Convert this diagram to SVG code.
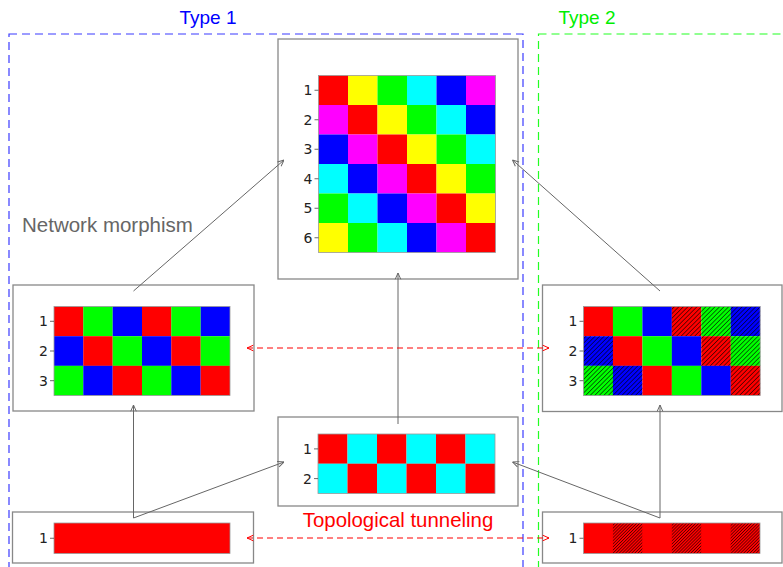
<svg xmlns="http://www.w3.org/2000/svg" width="783" height="567" viewBox="0 0 783 567">
<style>
.box{fill:#fff;stroke:#888;stroke-width:1.3}
.ax{fill:none;stroke:#999;stroke-width:0.8}
.lbl{font-family:"DejaVu Sans",sans-serif;font-size:14px;fill:#222;text-anchor:end;dominant-baseline:central}
.tk{stroke:#444;stroke-width:0.8}
.conn{stroke:#666;stroke-width:1;fill:none;marker-end:url(#ga)}
.rd{stroke:#f00;stroke-width:1;fill:none;stroke-dasharray:6,4;marker-end:url(#ra);marker-start:url(#ra)}
.R{fill:#f00}.G{fill:#0f0}.B{fill:#00f}.Y{fill:#ff0}.C{fill:#0ff}.M{fill:#f0f}
.h{fill:url(#hatch)}
.hd{fill:url(#hatch2)}
</style>
<defs>
<marker id="ga" viewBox="0 0 10 10" refX="10" refY="5" markerWidth="7" markerHeight="8" markerUnits="userSpaceOnUse" orient="auto-start-reverse"><path d="M1,1 L10,5 L1,9" fill="none" stroke="#666" stroke-width="1.4"/></marker>
<marker id="ra" viewBox="0 0 10 10" refX="10" refY="5" markerWidth="7" markerHeight="8" markerUnits="userSpaceOnUse" orient="auto-start-reverse"><path d="M1,1 L10,5 L1,9" fill="none" stroke="#f00" stroke-width="1.4"/></marker>
<pattern id="hatch" patternUnits="userSpaceOnUse" width="3.2" height="3.2" patternTransform="rotate(45)"><line x1="0" y1="0" x2="0" y2="3.2" stroke="#000" stroke-width="1.1"/></pattern>
<pattern id="hatch2" patternUnits="userSpaceOnUse" width="2.2" height="2.2" patternTransform="rotate(45)"><line x1="0" y1="0" x2="0" y2="2.2" stroke="#000" stroke-width="1"/></pattern>
</defs>
<rect width="783" height="567" fill="#fff"/>
<g id="type1-region">
<rect x="9" y="34" width="514" height="560" fill="none" stroke="#3b3bff" stroke-width="1.2" stroke-dasharray="8,5"/>
<text x="208" y="24" font-family="Liberation Sans,sans-serif" font-size="19" fill="#00f" text-anchor="middle">Type 1</text>
</g>
<g id="type2-region">
<rect x="538.5" y="34" width="260" height="560" fill="none" stroke="#2f2" stroke-width="1.2" stroke-dasharray="8,5"/>
<text x="587" y="24" font-family="Liberation Sans,sans-serif" font-size="19" fill="#0e0" text-anchor="middle">Type 2</text>
</g>
<g id="node-top">
<rect class="box" x="278" y="39" width="240" height="240"/>
<g transform="translate(318.5,75.5)">
<rect class="R" x="0" y="0" width="29.5" height="29.5"/><rect class="Y" x="29.5" y="0" width="29.5" height="29.5"/><rect class="G" x="59" y="0" width="29.5" height="29.5"/><rect class="C" x="88.5" y="0" width="29.5" height="29.5"/><rect class="B" x="118" y="0" width="29.5" height="29.5"/><rect class="M" x="147.5" y="0" width="29.5" height="29.5"/>
<rect class="M" x="0" y="29.5" width="29.5" height="29.5"/><rect class="R" x="29.5" y="29.5" width="29.5" height="29.5"/><rect class="Y" x="59" y="29.5" width="29.5" height="29.5"/><rect class="G" x="88.5" y="29.5" width="29.5" height="29.5"/><rect class="C" x="118" y="29.5" width="29.5" height="29.5"/><rect class="B" x="147.5" y="29.5" width="29.5" height="29.5"/>
<rect class="B" x="0" y="59" width="29.5" height="29.5"/><rect class="M" x="29.5" y="59" width="29.5" height="29.5"/><rect class="R" x="59" y="59" width="29.5" height="29.5"/><rect class="Y" x="88.5" y="59" width="29.5" height="29.5"/><rect class="G" x="118" y="59" width="29.5" height="29.5"/><rect class="C" x="147.5" y="59" width="29.5" height="29.5"/>
<rect class="C" x="0" y="88.5" width="29.5" height="29.5"/><rect class="B" x="29.5" y="88.5" width="29.5" height="29.5"/><rect class="M" x="59" y="88.5" width="29.5" height="29.5"/><rect class="R" x="88.5" y="88.5" width="29.5" height="29.5"/><rect class="Y" x="118" y="88.5" width="29.5" height="29.5"/><rect class="G" x="147.5" y="88.5" width="29.5" height="29.5"/>
<rect class="G" x="0" y="118" width="29.5" height="29.5"/><rect class="C" x="29.5" y="118" width="29.5" height="29.5"/><rect class="B" x="59" y="118" width="29.5" height="29.5"/><rect class="M" x="88.5" y="118" width="29.5" height="29.5"/><rect class="R" x="118" y="118" width="29.5" height="29.5"/><rect class="Y" x="147.5" y="118" width="29.5" height="29.5"/>
<rect class="Y" x="0" y="147.5" width="29.5" height="29.5"/><rect class="G" x="29.5" y="147.5" width="29.5" height="29.5"/><rect class="C" x="59" y="147.5" width="29.5" height="29.5"/><rect class="B" x="88.5" y="147.5" width="29.5" height="29.5"/><rect class="M" x="118" y="147.5" width="29.5" height="29.5"/><rect class="R" x="147.5" y="147.5" width="29.5" height="29.5"/>
<rect class="ax" x="0" y="0" width="177" height="177"/>
<path class="tk" d="M-4,14.75H0M-4,44.25H0M-4,73.75H0M-4,103.25H0M-4,132.75H0M-4,162.25H0"/>
<text class="lbl" x="-6" y="14.75">1</text><text class="lbl" x="-6" y="44.25">2</text><text class="lbl" x="-6" y="73.75">3</text><text class="lbl" x="-6" y="103.25">4</text><text class="lbl" x="-6" y="132.75">5</text><text class="lbl" x="-6" y="162.25">6</text>
</g>
</g>
<g id="node-left-mid">
<rect class="box" x="13" y="285" width="241" height="126"/>
<g transform="translate(54,306.5)">
<rect class="R" x="0" y="0" width="29.4" height="29.7"/><rect class="G" x="29.3" y="0" width="29.4" height="29.7"/><rect class="B" x="58.7" y="0" width="29.4" height="29.7"/><rect class="R" x="88" y="0" width="29.4" height="29.7"/><rect class="G" x="117.3" y="0" width="29.4" height="29.7"/><rect class="B" x="146.7" y="0" width="29.3" height="29.7"/>
<rect class="B" x="0" y="29.7" width="29.4" height="29.7"/><rect class="R" x="29.3" y="29.7" width="29.4" height="29.7"/><rect class="G" x="58.7" y="29.7" width="29.4" height="29.7"/><rect class="B" x="88" y="29.7" width="29.4" height="29.7"/><rect class="R" x="117.3" y="29.7" width="29.4" height="29.7"/><rect class="G" x="146.7" y="29.7" width="29.3" height="29.7"/>
<rect class="G" x="0" y="59.3" width="29.4" height="29.7"/><rect class="B" x="29.3" y="59.3" width="29.4" height="29.7"/><rect class="R" x="58.7" y="59.3" width="29.4" height="29.7"/><rect class="G" x="88" y="59.3" width="29.4" height="29.7"/><rect class="B" x="117.3" y="59.3" width="29.4" height="29.7"/><rect class="R" x="146.7" y="59.3" width="29.3" height="29.7"/>
<rect class="ax" x="0" y="0" width="176" height="89"/>
<path class="tk" d="M-4,14.8H0M-4,44.5H0M-4,74.2H0"/>
<text class="lbl" x="-6" y="14.8">1</text><text class="lbl" x="-6" y="44.5">2</text><text class="lbl" x="-6" y="74.2">3</text>
</g>
</g>
<g id="node-right-mid">
<rect class="box" x="542.5" y="285" width="239.5" height="126.5"/>
<g transform="translate(583.5,306.5)">
<rect class="R" x="0" y="0" width="29.5" height="29.7"/><rect class="G" x="29.4" y="0" width="29.5" height="29.7"/><rect class="B" x="58.9" y="0" width="29.5" height="29.7"/><rect class="R" x="88.3" y="0" width="29.5" height="29.7"/><rect class="G" x="117.8" y="0" width="29.5" height="29.7"/><rect class="B" x="147.2" y="0" width="29.5" height="29.7"/>
<rect class="h" x="88.3" y="0" width="29.5" height="29.7"/><rect class="h" x="117.8" y="0" width="29.5" height="29.7"/><rect class="h" x="147.2" y="0" width="29.5" height="29.7"/>
<rect class="B" x="0" y="29.7" width="29.5" height="29.7"/><rect class="R" x="29.4" y="29.7" width="29.5" height="29.7"/><rect class="G" x="58.9" y="29.7" width="29.5" height="29.7"/><rect class="B" x="88.3" y="29.7" width="29.5" height="29.7"/><rect class="R" x="117.8" y="29.7" width="29.5" height="29.7"/><rect class="G" x="147.2" y="29.7" width="29.5" height="29.7"/>
<rect class="h" x="0" y="29.7" width="29.5" height="29.7"/><rect class="h" x="117.8" y="29.7" width="29.5" height="29.7"/><rect class="h" x="147.2" y="29.7" width="29.5" height="29.7"/>
<rect class="G" x="0" y="59.3" width="29.5" height="29.7"/><rect class="B" x="29.4" y="59.3" width="29.5" height="29.7"/><rect class="R" x="58.9" y="59.3" width="29.5" height="29.7"/><rect class="G" x="88.3" y="59.3" width="29.5" height="29.7"/><rect class="B" x="117.8" y="59.3" width="29.5" height="29.7"/><rect class="R" x="147.2" y="59.3" width="29.5" height="29.7"/>
<rect class="h" x="0" y="59.3" width="29.5" height="29.7"/><rect class="h" x="29.4" y="59.3" width="29.5" height="29.7"/><rect class="h" x="147.2" y="59.3" width="29.5" height="29.7"/>
<rect class="ax" x="0" y="0" width="176.7" height="89"/>
<path class="tk" d="M-4,14.8H0M-4,44.5H0M-4,74.2H0"/>
<text class="lbl" x="-6" y="14.8">1</text><text class="lbl" x="-6" y="44.5">2</text><text class="lbl" x="-6" y="74.2">3</text>
</g>
</g>
<g id="node-center-bottom">
<rect class="box" x="278" y="417" width="240" height="89"/>
<g transform="translate(318,434)">
<rect class="R" x="0" y="0" width="29.5" height="29.8"/><rect class="C" x="29.5" y="0" width="29.5" height="29.8"/><rect class="R" x="59" y="0" width="29.5" height="29.8"/><rect class="C" x="88.5" y="0" width="29.5" height="29.8"/><rect class="R" x="118" y="0" width="29.5" height="29.8"/><rect class="C" x="147.5" y="0" width="29.5" height="29.8"/>
<rect class="C" x="0" y="29.7" width="29.5" height="29.8"/><rect class="R" x="29.5" y="29.7" width="29.5" height="29.8"/><rect class="C" x="59" y="29.7" width="29.5" height="29.8"/><rect class="R" x="88.5" y="29.7" width="29.5" height="29.8"/><rect class="C" x="118" y="29.7" width="29.5" height="29.8"/><rect class="R" x="147.5" y="29.7" width="29.5" height="29.8"/>
<rect class="ax" x="0" y="0" width="177" height="59.5"/>
<path class="tk" d="M-4,14.9H0M-4,44.6H0"/>
<text class="lbl" x="-6" y="14.9">1</text><text class="lbl" x="-6" y="44.6">2</text>
</g>
<text x="398" y="527" font-family="Liberation Sans,sans-serif" font-size="20.4" fill="#f00" text-anchor="middle">Topological tunneling</text>
</g>
<g id="node-left-bottom">
<rect class="box" x="12.5" y="512" width="241" height="51"/>
<g transform="translate(54,523)">
<rect class="R" x="0" y="0" width="176" height="30.5"/>
<rect class="ax" x="0" y="0" width="176" height="30.5"/>
<path class="tk" d="M-4,15.25H0"/>
<text class="lbl" x="-6" y="15.25">1</text>
</g>
</g>
<g id="node-right-bottom">
<rect class="box" x="542.5" y="512" width="239.5" height="51"/>
<g transform="translate(583.5,523)">
<rect class="R" x="0" y="0" width="176.5" height="30.5"/>
<rect class="hd" x="29.4" y="0" width="29.4" height="30.5"/><rect class="hd" x="88.3" y="0" width="29.4" height="30.5"/><rect class="hd" x="147.1" y="0" width="29.4" height="30.5"/>
<rect class="ax" x="0" y="0" width="176.5" height="30.5"/>
<path class="tk" d="M-4,15.25H0"/>
<text class="lbl" x="-6" y="15.25">1</text>
</g>
</g>
<text x="22" y="232" font-family="Liberation Sans,sans-serif" font-size="20.5" fill="#666">Network morphism</text>
<g id="connectors">
<line class="conn" x1="133.5" y1="291" x2="284" y2="160"/>
<line class="conn" x1="660" y1="291" x2="512.5" y2="160"/>
<line class="conn" x1="398" y1="424" x2="398" y2="273"/>
<line class="conn" x1="133.5" y1="518" x2="133.5" y2="405"/>
<line class="conn" x1="133.5" y1="518" x2="284" y2="462"/>
<line class="conn" x1="660" y1="518" x2="512.5" y2="462"/>
<line class="conn" x1="660" y1="518" x2="660" y2="405"/>
<line class="rd" x1="247" y1="348" x2="549" y2="348"/>
<line class="rd" x1="247" y1="538" x2="549" y2="538"/>
</g>
</svg>
